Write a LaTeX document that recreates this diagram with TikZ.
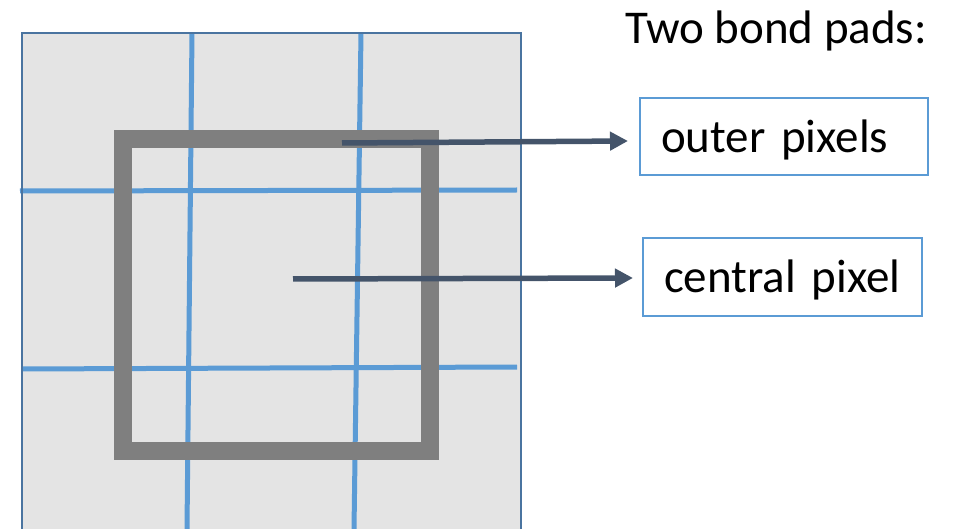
\documentclass[tikz,border=0pt]{standalone}
\usepackage{fontspec}
\setmainfont{Carlito}
\usetikzlibrary{arrows.meta}
\definecolor{padfill}{HTML}{E4E4E4}
\definecolor{padedge}{HTML}{4A74A0}
\definecolor{gridblue}{HTML}{5B9BD5}
\definecolor{framegray}{HTML}{7F7F7F}
\definecolor{arrowslate}{HTML}{44546A}
\begin{document}
\begin{tikzpicture}[x=1pt,y=-1pt,
  gridline/.style={draw=gridblue,line width=5pt},
  labelbox/.style={draw=gridblue,line width=1.5pt,inner xsep=21pt,align=left,
    text height=40pt,text depth=8pt,font=\fontsize{47}{56}\selectfont},
  pointer/.style={draw=arrowslate,line width=5.5pt,-{Triangle[length=18pt,width=18pt]}}]
\useasboundingbox (0,0) rectangle (958,529);
% pad area
\fill[padfill] (22,33) rectangle (521,529);
% grid lines
\draw[gridline] (192,33) -- (187,529);
\draw[gridline] (361,33) -- (354,529);
\draw[gridline] (20,191) -- (517,190);
\draw[gridline] (22,369) -- (517,367);
% outer edge (left, top, right)
\draw[padedge,line width=2pt] (22,529) -- (22,33) -- (521,33) -- (521,529);
% grey frame
\draw[framegray,line width=18pt] (123,139) rectangle (430,451);
% labels
\node[anchor=base west,inner sep=0,font=\fontsize{47}{56}\selectfont] (title) at (625,44) {Two bond pads:};
\node[labelbox,minimum width=288pt,minimum height=77pt,text width=246pt] (outer) at (784,136.5) {outer pixels};
\node[labelbox,minimum width=279pt,minimum height=78pt,text width=237pt] (central) at (782.5,277) {central pixel};
% arrows
\coordinate (s1) at (342,143);
\coordinate (e1) at (628,141);
\coordinate (s2) at (293,279);
\coordinate (e2) at (633,278);
\draw[pointer] (s1) -- (e1);
\draw[pointer] (s2) -- (e2);
\end{tikzpicture}
\end{document}
